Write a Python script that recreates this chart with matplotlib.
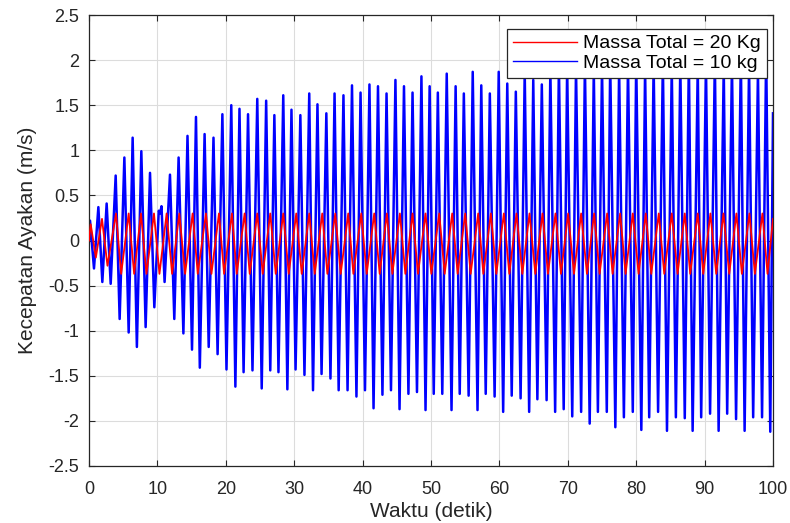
import matplotlib
matplotlib.use("Agg")
import matplotlib.pyplot as plt

plt.rcParams['font.family'] = ['Liberation Sans', 'DejaVu Sans']
plt.rcParams['axes.unicode_minus'] = False

# turning points of each trace (time in s, velocity in m/s)
blue_t = [0, 0.15, 0.73, 1.37, 1.95, 2.58, 3.17, 3.9, 4.48, 5.17, 5.8, 6.38, 7.0, 7.65, 8.28,
          8.92, 9.55, 10.2, 10.4, 10.6, 11.05, 11.84, 12.47, 13.1, 13.8, 14.4, 15.06, 15.64,
          16.2, 16.9, 17.5, 18.2, 18.8, 19.5, 20.1, 20.8, 21.4, 22.0, 22.6, 23.25, 23.9, 24.6,
          25.25, 25.9, 26.5, 27.1, 27.7, 28.4, 29.0, 29.6, 30.2, 30.9, 31.5, 32.2, 32.75, 33.4,
          34.0, 34.7, 35.3, 35.9, 36.5, 37.2, 37.8, 38.45, 39.1, 39.7, 40.35, 41.0, 41.6, 42.25,
          42.9, 43.5, 44.15, 44.8, 45.4, 46.05, 46.7, 47.3, 47.95, 48.6, 49.2, 49.8, 50.4, 51.0,
          51.65, 52.3, 53.0, 53.6, 54.2, 54.8, 55.5, 56.1, 56.8, 57.35, 58.0, 58.6, 59.3, 59.9,
          60.55, 61.15, 61.8, 62.4, 63.1, 63.7, 64.35, 64.95, 65.55, 66.2, 66.9, 67.45, 68.15,
          68.7, 69.4, 69.9, 70.65, 71.2, 71.95, 72.5, 73.2, 73.8, 74.4, 75.0, 75.7, 76.2, 76.95,
          77.5, 78.2, 78.8, 79.5, 80.0, 80.75, 81.3, 81.9, 82.55, 83.2, 83.9, 84.5, 85.2, 85.8,
          86.45, 87.1, 87.7, 88.25, 89.0, 89.5, 90.2, 90.8, 91.5, 92.05, 92.8, 93.3, 94.0, 94.6,
          95.3, 95.85, 96.5, 97.1, 97.8, 98.4, 99.0, 99.6, 100]
blue_v = [0, 0.22, -0.31, 0.37, -0.46, 0.41, -0.48, 0.72, -0.87, 0.92, -1.02, 1.14, -1.18, 0.99,
          -0.96, 0.75, -0.74, 0.33, 0.30, 0.38, -0.46, 0.73, -0.87, 0.92, -1.03, 1.16, -1.21, 1.37,
          -1.41, 1.18, -1.18, 1.14, -1.26, 1.40, -1.43, 1.50, -1.62, 1.46, -1.46, 1.40, -1.44, 1.57,
          -1.64, 1.55, -1.44, 1.39, -1.46, 1.61, -1.65, 1.45, -1.43, 1.39, -1.49, 1.63, -1.66, 1.51,
          -1.48, 1.41, -1.53, 1.63, -1.66, 1.61, -1.66, 1.72, -1.73, 1.64, -1.66, 1.73, -1.86, 1.71,
          -1.71, 1.63, -1.66, 1.78, -1.87, 1.71, -1.70, 1.64, -1.68, 1.82, -1.88, 1.71, -1.70, 1.64,
          -1.70, 1.85, -1.88, 1.71, -1.70, 1.63, -1.72, 1.87, -1.88, 1.72, -1.70, 1.63, -1.73, 1.87,
          -1.90, 1.74, -1.72, 1.65, -1.75, 1.88, -1.90, 1.78, -1.76, 1.73, -1.77, 1.90, -1.90,
          1.95, -1.87, 1.90, -1.95, 1.92, -1.90, 1.97, -2.03, 1.90, -1.90, 1.93, -1.90, 1.98, -2.07,
          1.92, -1.96, 1.95, -1.90, 2.00, -2.10, 1.93, -1.96, 1.96, -1.90, 2.00, -2.11, 1.93, -1.96,
          1.96, -1.97, 2.02, -2.11, 1.94, -1.96, 1.97, -1.92, 2.03, -2.11, 1.94, -1.92, 1.97, -1.98,
          2.04, -2.11, 1.95, -1.96, 1.88, -1.96, 2.09, -2.12, 1.41]

red_t = [0, 0.25, 1.0, 1.9, 2.7, 3.95, 4.7, 5.8, 6.6, 7.6, 8.4, 9.5, 10.3, 11.35, 12.15, 13.2,
         14.05, 15.15, 15.9, 17.1, 17.9, 19.0, 19.75, 20.9, 21.6, 22.75, 23.5, 24.6, 25.4, 26.5,
         27.3, 28.4, 29.2, 30.3, 31.1, 32.2, 33.0, 34.1, 34.85, 36.0, 36.8, 37.9, 38.65, 39.8,
         40.6, 41.7, 42.5, 43.55, 44.35, 45.45, 46.25, 47.3, 48.1, 49.2, 50.05, 51.2, 52.0, 53.1,
         53.9, 55.0, 55.8, 56.9, 57.65, 58.75, 59.55, 60.65, 61.45, 62.5, 63.35, 64.4, 65.25,
         66.3, 67.1, 68.2, 69.0, 70.05, 70.9, 71.95, 72.8, 73.85, 74.65, 75.75, 76.55, 77.65,
         78.45, 79.5, 80.35, 81.4, 82.2, 83.3, 84.1, 85.2, 86.05, 87.1, 87.9, 89.0, 89.8, 90.85,
         91.7, 92.75, 93.6, 94.65, 95.45, 96.55, 97.35, 98.45, 99.2, 100]
red_v = [0, 0.18, -0.19, 0.24, -0.28] + [0.30, -0.37] * 51 + [0.24]

x_ticks = [0, 10, 20, 30, 40, 50, 60, 70, 80, 90, 100]
y_ticks = [-2.5, -2, -1.5, -1, -0.5, 0, 0.5, 1, 1.5, 2, 2.5]
y_tick_labels = ['-2.5', '-2', '-1.5', '-1', '-0.5', '0', '0.5', '1', '1.5', '2', '2.5']

dark = '#262626'

fig = plt.figure(figsize=(7.9, 5.23), dpi=100)
ax = fig.add_axes([89 / 790, 57 / 523, 684 / 790, 451 / 523])

blue_line, = ax.plot(blue_t, blue_v, color='#0000ff', linewidth=1.8, zorder=2)
red_line, = ax.plot(red_t, red_v, color='#ff0000', linewidth=1.3, zorder=3)

ax.set_xlim(0, 100)
ax.set_ylim(-2.5, 2.5)
ax.set_xticks(x_ticks)
ax.set_yticks(y_ticks)
ax.set_yticklabels(y_tick_labels)
ax.grid(True, color='#dcdcdc', linewidth=0.8)
ax.set_axisbelow(True)

for s in ax.spines.values():
    s.set_color(dark)
    s.set_linewidth(0.9)
ax.tick_params(direction='in', top=True, right=True, length=4, width=0.8,
               color=dark, labelcolor=dark, labelsize=13)
ax.tick_params(axis='x', pad=11)
ax.tick_params(axis='y', pad=7)

ax.set_xlabel("Waktu (detik)", fontsize=15, color=dark, labelpad=3)
ax.set_ylabel("Kecepatan Ayakan (m/s)", fontsize=15, color=dark, labelpad=8)

leg = ax.legend([red_line, blue_line], ["Massa Total = 20 Kg", "Massa Total = 10 kg"],
                loc='upper right', bbox_to_anchor=(0.991, 0.969), borderaxespad=0,
                fontsize=14, handlelength=3.3, handletextpad=0.3, labelspacing=0.1,
                borderpad=0.3, fancybox=False, framealpha=1, edgecolor=dark)
leg.get_frame().set_linewidth(0.9)
for h in leg.get_lines():
    h.set_linewidth(1.0)

fig.savefig("out.png", dpi=100)
